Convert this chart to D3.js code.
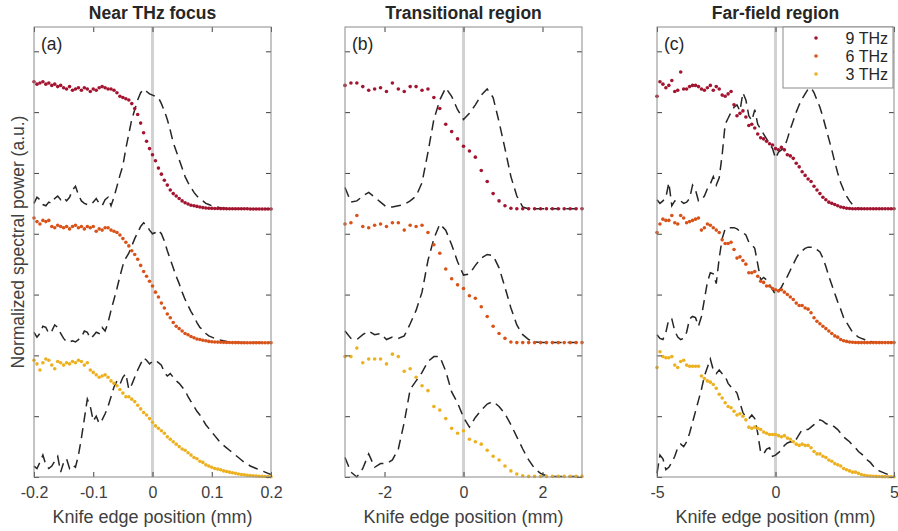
<!DOCTYPE html>
<html>
<head>
<meta charset="utf-8">
<script src="https://cdn.jsdelivr.net/npm/d3@7"></script>
<style>
	body { margin: 0; background: #fff; }
	svg { font-family: "Liberation Sans", Arial, Helvetica, sans-serif; }
	.tick text { fill: #404040; font-size: 16px; }
	.tick line { stroke: #404040; }
</style>
</head>
<body>
<script>
// shared categories
var freqs = ['9 THz', '6 THz', '3 THz'];
var colors = ['#a2142f', '#d95319', '#edb120'];
var offsets = [2.2, 1.1, 0];
var yTicks = [0, 0.5, 1, 1.5, 2, 2.5, 3, 3.5];

// (a) near THz focus, -0.2..0.2 mm, step 0.005
var xTicksA = [-0.2, -0.1, 0, 0.1, 0.2];
var xLabelsA = ['-0.2', '-0.1', '0', '0.1', '0.2'];
var a9 = [
	1.05, 1.03, 1.04, 1.05, 1.03, 1.04, 1.02, 1.03, 1.01, 1.02,
	1.00, 0.99, 1.01, 0.98, 0.99, 1.00, 0.98, 1.00, 0.99, 0.97,
	0.99, 0.98, 1.00, 1.01, 1.00, 0.99, 0.99, 0.98, 0.96, 0.93,
	0.92, 0.91, 0.90, 0.87, 0.83, 0.78, 0.71, 0.63, 0.56, 0.50,
	0.45, 0.40, 0.34, 0.29, 0.24, 0.20, 0.16, 0.13, 0.11, 0.09,
	0.07, 0.055, 0.045, 0.035, 0.03, 0.025, 0.02, 0.015, 0.012, 0.01,
	0.009, 0.008, 0.008, 0.007, 0.007, 0.006, 0.006, 0.006, 0.005, 0.005,
	0.005, 0.005, 0.005, 0.004, 0.004, 0.004, 0.004, 0.004, 0.004, 0.004,
	0.004
];
var a9d = [
	0.05, 0.10, 0.08, 0.04, 0.03, 0.06, 0.05, 0.09, 0.11, 0.08,
	0.10, 0.07, 0.10, 0.16, 0.19, 0.12, 0.07, 0.05, 0.04, 0.04,
	0.06, 0.09, 0.05, 0.03, 0.08, 0.10, 0.03, 0.10, 0.19, 0.28,
	0.36, 0.50, 0.62, 0.74, 0.82, 0.90, 0.96, 0.99, 0.97, 0.95,
	0.94, 0.93, 0.92, 0.87, 0.81, 0.74, 0.65, 0.55, 0.48, 0.41,
	0.34, 0.27, 0.22, 0.18, 0.14, 0.11, 0.09, 0.07, 0.05, 0.04,
	0.03, 0.025, 0.02, 0.01, 0.01, 0.008, 0.006, 0.005, 0.005, 0.005,
	0.005, 0.005, 0.005, 0.005, 0.005, 0.005, 0.005, 0.005, 0.005, 0.005,
	0.005
];
var a6 = [
	1.03, 1.00, 0.98, 1.01, 1.00, 1.01, 0.96, 0.95, 0.97, 0.96,
	0.95, 0.96, 0.94, 0.96, 0.97, 0.95, 0.96, 0.94, 0.96, 0.95,
	0.96, 0.92, 0.94, 0.93, 0.95, 0.95, 0.93, 0.92, 0.91, 0.89,
	0.86, 0.83, 0.80, 0.76, 0.73, 0.69, 0.64, 0.59, 0.55, 0.51,
	0.47, 0.42, 0.38, 0.33, 0.29, 0.24, 0.21, 0.17, 0.14, 0.12,
	0.10, 0.08, 0.07, 0.055, 0.045, 0.035, 0.03, 0.025, 0.02, 0.015,
	0.012, 0.01, 0.009, 0.008, 0.007, 0.006, 0.006, 0.005, 0.005, 0.005,
	0.004, 0.004, 0.004, 0.004, 0.004, 0.004, 0.004, 0.004, 0.004, 0.004,
	0.004
];
var a6d = [
	0.09, 0.05, 0.08, 0.14, 0.13, 0.08, 0.10, 0.15, 0.13, 0.08,
	0.04, 0.01, 0.01, 0.02, 0.01, 0.03, 0.05, 0.10, 0.09, 0.04,
	0.06, 0.09, 0.08, 0.13, 0.10, 0.17, 0.27, 0.36, 0.45, 0.55,
	0.64, 0.70, 0.74, 0.80, 0.86, 0.91, 0.96, 0.99, 0.97, 0.93,
	0.90, 0.91, 0.93, 0.90, 0.84, 0.76, 0.69, 0.62, 0.55, 0.49,
	0.42, 0.36, 0.31, 0.26, 0.22, 0.17, 0.13, 0.11, 0.08, 0.06,
	0.05, 0.04, 0.03, 0.025, 0.02, 0.015, 0.01, 0.008, 0.006, 0.005,
	0.005, 0.005, 0.005, 0.005, 0.005, 0.005, 0.005, 0.005, 0.005, 0.005,
	0.005
];
var a3 = [
	0.96, 0.93, 0.88, 0.94, 0.97, 0.96, 0.92, 0.89, 0.95, 0.94,
	0.92, 0.94, 0.93, 0.95, 0.94, 0.96, 0.95, 0.92, 0.94, 0.88,
	0.86, 0.84, 0.82, 0.83, 0.84, 0.82, 0.79, 0.77, 0.75, 0.72,
	0.69, 0.66, 0.66, 0.64, 0.62, 0.59, 0.56, 0.53, 0.51, 0.48,
	0.45, 0.42, 0.40, 0.38, 0.36, 0.33, 0.31, 0.29, 0.27, 0.25,
	0.23, 0.22, 0.20, 0.18, 0.16, 0.15, 0.13, 0.12, 0.10, 0.09,
	0.08, 0.07, 0.065, 0.06, 0.05, 0.045, 0.04, 0.035, 0.03, 0.025,
	0.02, 0.018, 0.015, 0.012, 0.01, 0.008, 0.006, 0.005, 0.004, 0.003,
	0.002
];
var a3d = [
	0.09, 0.07, 0.12, 0.18, 0.10, 0.07, 0.09, 0.13, 0.17, 0.04,
	0.12, 0.15, 0.07, 0.10, 0.08, 0.18, 0.32, 0.48, 0.64, 0.58,
	0.46, 0.50, 0.44, 0.47, 0.52, 0.58, 0.66, 0.74, 0.79, 0.76,
	0.82, 0.85, 0.72, 0.76, 0.82, 0.88, 0.93, 0.98, 0.96, 0.93,
	0.95, 0.96, 0.94, 0.92, 0.86, 0.83, 0.85, 0.82, 0.79, 0.77,
	0.74, 0.71, 0.66, 0.62, 0.58, 0.54, 0.51, 0.47, 0.43, 0.40,
	0.37, 0.34, 0.31, 0.28, 0.26, 0.24, 0.22, 0.20, 0.18, 0.16,
	0.14, 0.12, 0.11, 0.09, 0.08, 0.07, 0.06, 0.05, 0.04, 0.03,
	0.02
];

// (b) transitional region, -3..3 mm, step 0.15
var xTicksB = [-2, 0, 2];
var xLabelsB = ['-2', '0', '2'];
var b9 = [
	1.02, 1.04, 1.04, 1.01, 0.98, 0.99, 1.00, 0.97, 1.04, 0.99,
	0.97, 1.01, 1.01, 0.98, 0.99, 0.92, 0.83, 0.70, 0.64, 0.58,
	0.52, 0.48, 0.43, 0.32, 0.23, 0.13, 0.07, 0.03, 0.01, 0.005,
	0.005, 0.005, 0.005, 0.005, 0.005, 0.005, 0.005, 0.005, 0.005, 0.005,
	0.005
];
var b9d = [
	0.18, 0.06, 0.07, 0.11, 0.14, 0.10, 0.06, 0.02, 0.02, 0.03,
	0.04, 0.07, 0.11, 0.22, 0.47, 0.74, 0.90, 1.00, 0.93, 0.82,
	0.74, 0.79, 0.86, 0.94, 0.99, 0.92, 0.72, 0.50, 0.27, 0.11,
	0.02, 0.005, 0.005, 0.005, 0.005, 0.005, 0.005, 0.005, 0.005, 0.005,
	0.005
];
var b6 = [
	0.98, 0.99, 1.05, 0.96, 0.95, 0.97, 0.98, 0.96, 0.99, 0.99,
	0.93, 0.97, 0.96, 0.97, 0.91, 0.81, 0.74, 0.61, 0.53, 0.48,
	0.45, 0.39, 0.37, 0.30, 0.22, 0.14, 0.08, 0.04, 0.01, 0.005,
	0.005, 0.005, 0.005, 0.005, 0.005, 0.005, 0.005, 0.005, 0.005, 0.005,
	0.005
];
var b6d = [
	0.10, 0.04, 0.03, 0.07, 0.10, 0.07, 0.08, 0.03, 0.05, 0.04,
	0.06, 0.16, 0.27, 0.42, 0.68, 0.86, 0.98, 0.93, 0.81, 0.67,
	0.56, 0.57, 0.64, 0.70, 0.73, 0.72, 0.62, 0.46, 0.29, 0.15,
	0.07, 0.03, 0.01, 0.005, 0.005, 0.005, 0.005, 0.005, 0.005, 0.005,
	0.005
];
var b3 = [
	0.99, 0.99, 1.06, 0.94, 0.97, 0.97, 0.97, 0.93, 1.01, 0.99,
	0.87, 0.89, 0.82, 0.75, 0.71, 0.58, 0.55, 0.48, 0.40, 0.36,
	0.38, 0.31, 0.29, 0.27, 0.22, 0.17, 0.14, 0.09, 0.05, 0.025,
	0.01, 0.005, 0.005, 0.005, 0.005, 0.005, 0.005, 0.005, 0.005, 0.005,
	0.005
];
var b3d = [
	0.16, 0.04, 0.00, 0.07, 0.19, 0.08, 0.11, 0.11, 0.14, 0.23,
	0.45, 0.72, 0.79, 0.86, 0.95, 0.99, 0.99, 0.87, 0.70, 0.61,
	0.49, 0.41, 0.49, 0.55, 0.60, 0.62, 0.58, 0.52, 0.43, 0.33,
	0.23, 0.14, 0.07, 0.03, 0.01, 0.005, 0.005, 0.005, 0.005, 0.005,
	0.005
];

// (c) far-field region, -5..5 mm, step 0.125
var xTicksC = [-5, 0, 5];
var xLabelsC = ['-5', '0', '5'];
var c9 = [
	0.93, 1.05, 1.03, 1.00, 1.02, 1.06, 0.97, 0.98, 1.13, 0.99,
	0.99, 1.01, 1.02, 1.02, 1.01, 0.99, 0.98, 1.00, 1.02, 0.98,
	1.01, 0.99, 0.94, 0.93, 0.95, 0.97, 0.86, 0.77, 0.79, 0.81,
	0.76, 0.69, 0.70, 0.67, 0.62, 0.59, 0.58, 0.56, 0.54, 0.53,
	0.50, 0.49, 0.51, 0.49, 0.45, 0.44, 0.42, 0.38, 0.35, 0.31,
	0.28, 0.25, 0.23, 0.19, 0.16, 0.13, 0.10, 0.08, 0.06, 0.05,
	0.04, 0.03, 0.02, 0.015, 0.01, 0.008, 0.006, 0.005, 0.005, 0.005,
	0.005, 0.005, 0.005, 0.005, 0.005, 0.005, 0.005, 0.005, 0.005, 0.005,
	0.005
];
var c9d = [
	0.08, 0.05, 0.07, 0.10, 0.22, 0.03, 0.07, 0.06, 0.07, 0.05,
	0.06, 0.09, 0.20, 0.16, 0.07, 0.08, 0.11, 0.17, 0.21, 0.27,
	0.20, 0.26, 0.45, 0.70, 0.75, 0.80, 0.84, 0.86, 0.81, 0.96,
	0.90, 0.77, 0.73, 0.82, 0.70, 0.66, 0.62, 0.58, 0.54, 0.50,
	0.42, 0.47, 0.49, 0.51, 0.58, 0.66, 0.73, 0.80, 0.86, 0.91,
	0.95, 0.99, 1.00, 0.96, 0.90, 0.84, 0.76, 0.67, 0.58, 0.49,
	0.39, 0.30, 0.22, 0.16, 0.11, 0.07, 0.04, 0.02, 0.01, 0.005,
	0.005, 0.005, 0.005, 0.005, 0.005, 0.005, 0.005, 0.005, 0.005, 0.005,
	0.005
];
var c6 = [
	0.91, 0.98, 1.02, 1.01, 1.01, 1.05, 0.99, 0.98, 1.05, 1.03,
	0.99, 1.00, 1.01, 1.02, 1.03, 0.93, 0.95, 0.98, 0.97, 0.95,
	0.93, 0.91, 0.85, 0.82, 0.82, 0.83, 0.77, 0.70, 0.71, 0.68,
	0.65, 0.58, 0.58, 0.59, 0.55, 0.51, 0.50, 0.47, 0.47, 0.45,
	0.44, 0.43, 0.44, 0.42, 0.40, 0.38, 0.36, 0.33, 0.31, 0.31,
	0.29, 0.28, 0.25, 0.21, 0.18, 0.16, 0.14, 0.12, 0.10, 0.08,
	0.06, 0.05, 0.03, 0.02, 0.015, 0.01, 0.008, 0.006, 0.005, 0.005,
	0.005, 0.005, 0.005, 0.005, 0.005, 0.005, 0.005, 0.005, 0.005, 0.005,
	0.005
];
var c6d = [
	0.07, 0.04, 0.03, 0.09, 0.20, 0.20, 0.10, 0.05, 0.03, 0.04,
	0.09, 0.20, 0.22, 0.21, 0.14, 0.22, 0.36, 0.50, 0.58, 0.57,
	0.49, 0.70, 0.86, 0.94, 0.95, 0.95, 0.95, 0.94, 0.92, 0.91,
	0.89, 0.83, 0.81, 0.78, 0.65, 0.52, 0.54, 0.52, 0.48, 0.44,
	0.40, 0.43, 0.46, 0.51, 0.55, 0.60, 0.65, 0.70, 0.74, 0.76,
	0.78, 0.79, 0.79, 0.79, 0.77, 0.75, 0.70, 0.63, 0.55, 0.48,
	0.41, 0.34, 0.28, 0.21, 0.17, 0.13, 0.09, 0.07, 0.05, 0.04,
	0.03, 0.02, 0.015, 0.01, 0.005, 0.005, 0.005, 0.005, 0.005, 0.005,
	0.005
];
var c3 = [
	0.90, 1.03, 0.99, 0.98, 0.98, 0.99, 0.92, 0.90, 0.95, 0.96,
	0.92, 0.91, 0.91, 0.91, 0.91, 0.83, 0.81, 0.79, 0.78, 0.76,
	0.73, 0.68, 0.65, 0.61, 0.58, 0.57, 0.54, 0.51, 0.52, 0.50,
	0.47, 0.41, 0.40, 0.41, 0.40, 0.39, 0.37, 0.36, 0.35, 0.35,
	0.35, 0.34, 0.33, 0.34, 0.32, 0.31, 0.29, 0.27, 0.26, 0.27,
	0.26, 0.26, 0.24, 0.21, 0.19, 0.19, 0.17, 0.16, 0.14, 0.13,
	0.11, 0.10, 0.09, 0.07, 0.06, 0.05, 0.04, 0.04, 0.03, 0.02,
	0.015, 0.01, 0.008, 0.006, 0.005, 0.004, 0.003, 0.003, 0.002, 0.002,
	0.002
];
var c3d = [
	0.03, 0.18, 0.15, 0.06, 0.08, 0.12, 0.17, 0.24, 0.27, 0.25,
	0.29, 0.36, 0.45, 0.54, 0.63, 0.72, 0.83, 0.90, 0.97, 0.88,
	0.85, 0.88, 0.85, 0.83, 0.77, 0.74, 0.72, 0.69, 0.61, 0.53,
	0.49, 0.48, 0.51, 0.48, 0.36, 0.20, 0.19, 0.23, 0.24, 0.17,
	0.18, 0.20, 0.22, 0.26, 0.28, 0.29, 0.28, 0.31, 0.35, 0.39,
	0.39, 0.39, 0.41, 0.43, 0.45, 0.47, 0.46, 0.44, 0.43, 0.43,
	0.41, 0.39, 0.36, 0.33, 0.31, 0.29, 0.26, 0.24, 0.21, 0.19,
	0.17, 0.14, 0.12, 0.09, 0.07, 0.05, 0.04, 0.03, 0.02, 0.01,
	0.00
];

var panels = [
	{ title: 'Near THz focus', tag: '(a)', start: -0.2, step: 0.005, domain: [-0.2, 0.2], ticks: xTicksA, labels: xLabelsA, dots: [a9, a6, a3], lines: [a9d, a6d, a3d], left: 34 },
	{ title: 'Transitional region', tag: '(b)', start: -3, step: 0.15, domain: [-3, 3], ticks: xTicksB, labels: xLabelsB, dots: [b9, b6, b3], lines: [b9d, b6d, b3d], left: 345 },
	{ title: 'Far-field region', tag: '(c)', start: -5, step: 0.125, domain: [-5, 5], ticks: xTicksC, labels: xLabelsC, dots: [c9, c6, c3], lines: [c9d, c6d, c3d], left: 657 }
];

var width = 898, height = 531;
var plotTop = 27, plotBottom = 477, plotW = 237;

var svg = d3.select('body')
	.append('svg')
	.attr('width', width)
	.attr('height', height);

var y = d3.scaleLinear().domain([0, 3.7]).range([plotBottom, plotTop]);

panels.forEach(function(p, k) {
	var x = d3.scaleLinear().domain(p.domain).range([p.left, p.left + plotW]);
	var g = svg.append('g').attr('class', 'panel');

	var pos = function(i) {
		return p.start + i * p.step;
	};

	// grey marker at x = 0
	g.append('line')
		.attr('x1', x(0)).attr('x2', x(0))
		.attr('y1', plotTop).attr('y2', plotBottom)
		.attr('stroke', '#d2d2d2')
		.attr('stroke-width', 3);

	p.lines.forEach(function(vals, s) {
		var line = d3.line()
			.x(function(d, i) { return x(pos(i)); })
			.y(function(d) { return y(d + offsets[s]); });
		g.append('path')
			.datum(vals)
			.attr('d', line)
			.attr('fill', 'none')
			.attr('stroke', '#262626')
			.attr('stroke-width', 1.5)
			.attr('stroke-dasharray', '10,6');
	});

	p.dots.forEach(function(vals, s) {
		g.append('g')
			.selectAll('circle')
			.data(vals)
			.enter()
			.append('circle')
			.attr('cx', function(d, i) { return x(pos(i)); })
			.attr('cy', function(d) { return y(d + offsets[s]); })
			.attr('r', 1.8)
			.attr('fill', colors[s]);
	});

	// axes, ticks pointing inwards
	g.append('g')
		.attr('transform', 'translate(0,' + plotBottom + ')')
		.call(d3.axisBottom(x).tickValues(p.ticks).tickSize(-5).tickPadding(10)
			.tickFormat(function(d, i) { return p.labels[i]; }));
	g.append('g')
		.attr('transform', 'translate(0,' + plotTop + ')')
		.call(d3.axisTop(x).tickValues(p.ticks).tickSize(-5).tickFormat(''));
	g.append('g')
		.attr('transform', 'translate(' + p.left + ',0)')
		.call(d3.axisLeft(y).tickValues(yTicks).tickSize(-5).tickFormat(''));
	g.append('g')
		.attr('transform', 'translate(' + (p.left + plotW) + ',0)')
		.call(d3.axisRight(y).tickValues(yTicks).tickSize(-5).tickFormat(''));
	g.selectAll('.domain').remove();

	g.append('rect')
		.attr('x', p.left).attr('y', plotTop)
		.attr('width', plotW).attr('height', plotBottom - plotTop)
		.attr('fill', 'none')
		.attr('stroke', '#8a8a8a')
		.attr('stroke-width', 1);

	g.append('text')
		.text(p.title)
		.attr('x', p.left + plotW / 2)
		.attr('y', 19)
		.attr('text-anchor', 'middle')
		.attr('font-size', 17.5)
		.attr('font-weight', 'bold')
		.attr('fill', '#262626');

	g.append('text')
		.text(p.tag)
		.attr('x', p.left + 7)
		.attr('y', 50)
		.attr('font-size', 17.5)
		.attr('fill', '#262626');

	g.append('text')
		.text('Knife edge position (mm)')
		.attr('x', p.left + plotW / 2)
		.attr('y', 523)
		.attr('text-anchor', 'middle')
		.attr('font-size', 18)
		.attr('fill', '#404040');
});

svg.append('text')
	.text('Normalized spectral power (a.u.)')
	.attr('transform', 'translate(24,242) rotate(-90)')
	.attr('text-anchor', 'middle')
	.attr('font-size', 17.5)
	.attr('fill', '#404040');

// legend in panel (c)
var lx = 783, ly = 27;
var legend = svg.append('g').attr('class', 'legend');
legend.append('rect')
	.attr('x', lx).attr('y', ly)
	.attr('width', 110).attr('height', 61)
	.attr('fill', '#fff')
	.attr('stroke', '#8a8a8a');
legend.selectAll('circle')
	.data(freqs)
	.enter()
	.append('circle')
	.attr('cx', lx + 33)
	.attr('cy', function(d, i) { return ly + 11 + i * 18; })
	.attr('r', 1.8)
	.attr('fill', function(d, i) { return colors[i]; });
legend.selectAll('text')
	.data(freqs)
	.enter()
	.append('text')
	.text(function(d) { return d; })
	.attr('x', lx + 105)
	.attr('y', function(d, i) { return ly + 16.5 + i * 18; })
	.attr('text-anchor', 'end')
	.attr('font-size', 16)
	.attr('fill', '#262626');
</script>
</body>
</html>
